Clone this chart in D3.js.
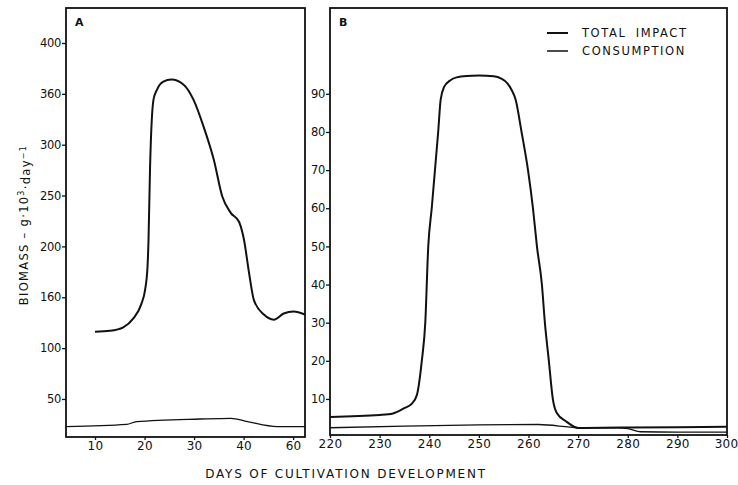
<!DOCTYPE html>
<html>
<head>
<meta charset="utf-8">
<script src="https://cdn.jsdelivr.net/npm/d3@7/dist/d3.min.js"></script>
<style>
  html, body { margin: 0; padding: 0; background: #fff; }
  svg { display: block; }
  text { font-family: "DejaVu Sans", sans-serif; fill: #111; }
</style>
</head>
<body>
<svg id="chart" width="738" height="485"></svg>
<script>
// ---------- DATA ----------
// Panel A
const daysTotalA = [10, 13, 15.7, 17.7, 19.4, 20.1, 20.6, 20.8, 21.1, 21.8, 22.5, 23.8, 25.4, 27.9, 29.9, 31.9, 34, 35.7, 37.4, 39.1, 39.8, 40.1, 41.1, 42.1, 44.1, 46.1, 48.1, 50.1, 52.4];
const totalImpactA = [116, 117, 120.5, 129, 144, 157, 180, 206, 275, 344, 354, 362, 364, 359, 344, 318, 285, 249, 233, 224, 213, 206, 174, 147, 133, 128, 134, 136, 133];
const daysConsA = [4.2, 16.4, 18.4, 31.2, 37.4, 40.8, 46.8, 52.4];
const consumptionA = [22.8, 25, 27.7, 30.3, 31, 27.7, 22.8, 22.8];
const xTickValuesA = [10, 20, 30, 40, 50];
const xTickLabelsA = ["10", "20", "30", "40", "60"];
const yTickValuesA = [50, 100, 150, 200, 250, 300, 350, 400];
const yTickLabelsA = ["50", "100", "160", "200", "250", "300", "360", "400"];

// Panel B
const daysTotalB = [220, 230, 232.7, 235, 236.5, 237.5, 238.5, 239.2, 239.8, 240.5, 241.8, 242.3, 243, 244.2, 245.5, 247.5, 250, 253, 254.5, 255.7, 256.6, 257.4, 258.6, 259.9, 260.9, 261.7, 262.7, 263.3, 264.1, 264.9, 265.7, 267.7, 270, 280, 300];
const totalImpactB = [5.3, 5.8, 6.2, 7.6, 8.8, 11, 20, 30, 50, 60, 80, 88.5, 91.8, 93.5, 94.3, 94.7, 94.8, 94.6, 94, 92.8, 91, 88.5, 80, 70, 60, 50, 40, 30, 20, 10, 6.3, 4, 2.4, 2.5, 2.7];
const daysConsB = [220, 235, 250, 262, 270, 278, 280, 282.6, 290, 300];
const consumptionB = [2.45, 2.9, 3.2, 3.3, 2.5, 2.4, 2.2, 1.4, 1.3, 1.3];
const xTickValuesB = [220, 230, 240, 250, 260, 270, 280, 290, 300];
const yTickValuesB = [10, 20, 30, 40, 50, 60, 70, 80, 90];

const panelLabels = ["A", "B"];
const legendLabels = ["TOTAL IMPACT", "CONSUMPTION"];
const xTitle = "DAYS OF CULTIVATION DEVELOPMENT";

// ---------- DRAW ----------
const svg = d3.select("#chart");

const panels = [
  { label: panelLabels[0], x0: 66, x1: 305, y0: 8, y1: 437,
    xDom: [4.14, 52.4], yDom: [12.6, 434.4],
    xt: xTickValuesA, xl: xTickLabelsA, yt: yTickValuesA, yl: yTickLabelsA,
    total: [daysTotalA, totalImpactA], cons: [daysConsA, consumptionA],
    curve: d3.curveMonotoneX },
  { label: panelLabels[1], x0: 330, x1: 727, y0: 8, y1: 435,
    xDom: [220, 300], yDom: [0.55, 112.5],
    xt: xTickValuesB, xl: xTickValuesB.map(String), yt: yTickValuesB, yl: yTickValuesB.map(String),
    total: [daysTotalB, totalImpactB], cons: [daysConsB, consumptionB],
    curve: d3.curveMonotoneX }
];

panels.forEach(p => {
  const x = d3.scaleLinear().domain(p.xDom).range([p.x0, p.x1]);
  const y = d3.scaleLinear().domain(p.yDom).range([p.y1, p.y0]);
  const g = svg.append("g");

  // y axis
  const yAxis = d3.axisLeft(y).tickValues(p.yt)
    .tickFormat((d, i) => p.yl[i]).tickSize(4).tickPadding(1);
  const ya = g.append("g").attr("transform", `translate(${p.x0},0)`).call(yAxis);
  ya.select(".domain").remove();
  ya.selectAll("line").attr("stroke", "#111").attr("stroke-width", 1.3);
  ya.selectAll("text").attr("font-size", 11.5).attr("letter-spacing", -0.3);

  // x axis
  const xAxis = d3.axisBottom(x).tickValues(p.xt)
    .tickFormat((d, i) => p.xl[i]).tickSize(3).tickPadding(1);
  const xa = g.append("g").attr("transform", `translate(0,${p.y1})`).call(xAxis);
  xa.select(".domain").remove();
  xa.selectAll("line").attr("stroke", "#111").attr("stroke-width", 1.3);
  xa.selectAll("text").attr("font-size", 12).attr("letter-spacing", 0.3);
  xa.selectAll("text").filter((d, i, n) => x(d) > 720).attr("text-anchor", "end").attr("dx", 11);

  // frame
  g.append("rect").attr("x", p.x0).attr("y", p.y0)
    .attr("width", p.x1 - p.x0).attr("height", p.y1 - p.y0)
    .attr("fill", "none").attr("stroke", "#111").attr("stroke-width", 1.8);

  // lines
  const mk = (xs, ys) => xs.map((d, i) => [d, ys[i]]);
  const line = d3.line().x(d => x(d[0])).y(d => y(d[1])).curve(p.curve);
  g.append("path").datum(mk(p.cons[0], p.cons[1])).attr("d", line)
    .attr("fill", "none").attr("stroke", "#111").attr("stroke-width", 1.3);
  g.append("path").datum(mk(p.total[0], p.total[1])).attr("d", line)
    .attr("fill", "none").attr("stroke", "#111").attr("stroke-width", 2);

  // panel label
  g.append("text").attr("x", p.x0 + 9).attr("y", p.y0 + 18)
    .attr("font-size", 11).attr("font-weight", "bold").text(p.label);
});

// legend
const legY = [33, 51];
legendLabels.forEach((t, i) => {
  svg.append("line").attr("x1", 547).attr("x2", 568).attr("y1", legY[i]).attr("y2", legY[i])
    .attr("stroke", "#111").attr("stroke-width", i === 0 ? 2 : 1.5);
  svg.append("text").attr("x", 582).attr("y", legY[i]).attr("dy", "0.35em")
    .attr("font-size", 11.5).attr("letter-spacing", 1.6).attr("word-spacing", 4).text(t);
});

// x title
svg.append("text").attr("x", 346).attr("y", 474).attr("dy", "0.35em")
  .attr("text-anchor", "middle").attr("font-size", 12).attr("letter-spacing", 1.8)
  .text(xTitle);

// y title
const yt = svg.append("text").attr("transform", "translate(24,225) rotate(-90)")
  .attr("text-anchor", "middle").attr("dy", "0.35em").attr("font-size", 11.5).attr("letter-spacing", 1.3);
yt.append("tspan").text("BIOMASS – g·10");
yt.append("tspan").attr("font-size", 8).attr("dy", "-0.45em").text("3");
yt.append("tspan").attr("dy", "0.45em").text("·day");
yt.append("tspan").attr("font-size", 8).attr("dy", "-0.45em").text("−1");
</script>
</body>
</html>
